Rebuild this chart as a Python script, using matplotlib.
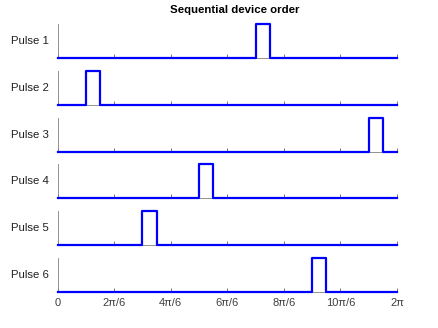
import numpy as np
import matplotlib
matplotlib.use("Agg")
import matplotlib.pyplot as plt

# pulse data (units of pi/6)
pulse_names = ["Pulse 1", "Pulse 2", "Pulse 3", "Pulse 4", "Pulse 5", "Pulse 6"]
pulse_start = [7, 1, 11, 5, 3, 9]
pulse_width = 0.5
tick_vals = [0, 2, 4, 6, 8, 10, 12]
tick_labels = ["0", "2π/6", "4π/6", "6π/6", "8π/6", "10π/6", "2π"]

plt.rcParams['font.family'] = ['Liberation Sans', 'DejaVu Sans']
plt.rcParams['font.size'] = 8

fig = plt.figure(figsize=(4.38, 3.28), dpi=100)
W, H = 438, 328
left, right = 57.5, 397
ax_h = 34
bottoms = [58 + 46.8 * i for i in range(6)]

unit = np.pi / 6
for i, name in enumerate(pulse_names):
    b = bottoms[i]
    ax = fig.add_axes([left / W, 1 - b / H, (right - left) / W, ax_h / H])
    s = pulse_start[i] * unit
    e = s + pulse_width * unit
    x = [0, s, s, e, e, 2 * np.pi]
    y = [0, 0, 1, 1, 0, 0]
    ax.plot(x, y, color=(0, 0, 1), lw=1.6, clip_on=False, zorder=3)
    ax.set_xlim(0, 2 * np.pi)
    ax.set_ylim(0, 1)
    for sp in ["top", "right"]:
        ax.spines[sp].set_visible(False)
    for sp in ["left", "bottom"]:
        ax.spines[sp].set_color("#808080")
        ax.spines[sp].set_linewidth(0.6)
    ax.set_yticks([])
    ax.set_xticks([t * unit for t in tick_vals])
    ax.tick_params(axis="x", direction="in", length=3, width=0.6, color="#606060",
                   labelsize=8, labelcolor="#404040", pad=4)
    if i < 5:
        ax.set_xticklabels([])
    else:
        ax.set_xticklabels(tick_labels)
    ax.set_ylabel(name, rotation=0, ha="right", va="center", fontsize=8.2,
                  labelpad=6, color="#202020")

fig.text(235 / W, 1 - 10 / H, "Sequential device order", ha="center", va="center",
         fontsize=8.2, fontweight="bold")

fig.savefig("out.png", dpi=100)
